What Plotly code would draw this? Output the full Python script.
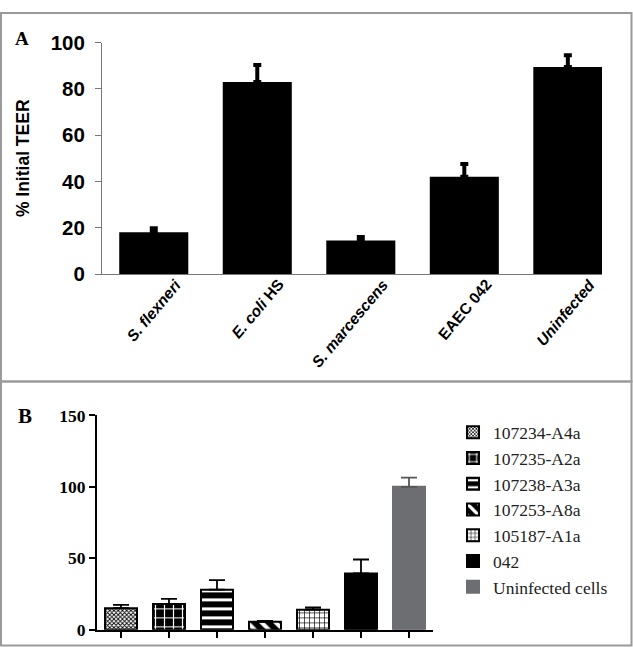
import plotly.graph_objects as go

# ---------------- data ----------------
a_categories = ["S. flexneri", "E. coli HS", "S. marcescens", "EAEC 042", "Uninfected"]
a_tick_text = ["<i>S. flexneri</i>", "<i>E. coli</i> HS", "<i>S. marcescens</i>", "EAEC 042", "<i>Uninfected</i>"]
a_values = [18.0, 83.0, 14.5, 42.0, 89.5]
a_errors = [1.8, 7.3, 1.5, 5.5, 5.0]
a_yticks = [0, 20, 40, 60, 80, 100]

b_names = ["107234-A4a", "107235-A2a", "107238-A3a", "107253-A8a", "105187-A1a", "042", "Uninfected cells"]
b_values = [15.0, 18.0, 28.0, 5.5, 14.0, 39.3, 100.0]
b_errors = [2.3, 3.5, 6.6, 0.6, 1.5, 9.8, 6.4]
b_yticks = [0, 50, 100, 150]

# styles (not data)
b_styles = [
    dict(shape="x", bg="white", fg="black", size=3, sol=0.5, color="white"),
    dict(shape="+", bg="black", fg="white", size=9, sol=0.25, color="black"),
    dict(shape="-", bg="black", fg="white", size=9, sol=0.33, color="black"),
    dict(shape="\\", bg="black", fg="white", size=10, sol=0.4, color="black"),
    dict(shape="+", bg="white", fg="black", size=5, sol=0.25, color="white"),
    dict(shape="", bg="black", fg="black", size=8, sol=0.3, color="black"),
    dict(shape="", bg="#6d6e71", fg="#6d6e71", size=8, sol=0.3, color="#6d6e71"),
]

W, H = 633, 658
def px_x(p):
    return p / W
def px_y(p):
    return (H - p) / H

fig = go.Figure()

# ---------------- Panel A ----------------
fig.add_trace(go.Bar(
    x=a_categories, y=a_values, width=0.667,
    marker=dict(color="black", line=dict(width=0)),
    error_y=dict(type="data", array=a_errors, arrayminus=[0] * len(a_errors),
                 color="black", thickness=4, width=4),
    showlegend=False, xaxis="x", yaxis="y",
))

# ---------------- Panel B ----------------
for name, v, e, st in zip(b_names, b_values, b_errors, b_styles):
    pat = dict(shape=st["shape"], bgcolor=st["bg"], fgcolor=st["fg"],
               size=st["size"], solidity=st["sol"], fillmode="replace")
    grey = st["color"] == "#6d6e71"
    fig.add_trace(go.Bar(
        x=[name], y=[v], width=0.667, name=name,
        marker=dict(color=st["color"], pattern=pat,
                    line=dict(color="#6d6e71" if grey else "black", width=2)),
        error_y=dict(type="data", array=[e], arrayminus=[0],
                     color="#555558" if grey else "black",
                     thickness=1.8, width=8),
        xaxis="x2", yaxis="y2",
    ))

# rotated category labels for panel A (placed through the x axis scale)
for cat, txt in zip(a_categories, a_tick_text):
    fig.add_annotation(
        x=cat, y=0, xref="x", yref="y", text=txt, showarrow=False,
        textangle=-50, xanchor="right", yanchor="top", xshift=33, yshift=1,
        font=dict(family="Liberation Sans, Arial", size=15.5, color="black", weight="bold"),
    )

# panel letters
fig.add_annotation(x=px_x(13), y=px_y(14), xref="paper", yref="paper", text="<b>A</b>",
                   showarrow=False, xanchor="left", yanchor="top",
                   font=dict(family="Liberation Serif, Times New Roman", size=19, color="black"))
fig.add_annotation(x=px_x(16), y=px_y(404), xref="paper", yref="paper", text="<b>B</b>",
                   showarrow=False, xanchor="left", yanchor="top",
                   font=dict(family="Liberation Serif, Times New Roman", size=21, color="black"))

# panel borders
for y0, y1 in [(1, 383), (383, 656.5)]:
    fig.add_shape(type="rect", xref="paper", yref="paper",
                  x0=px_x(1), x1=px_x(631.5), y0=px_y(y1), y1=px_y(y0),
                  line=dict(color="#9a9a9a", width=2), fillcolor="rgba(0,0,0,0)", layer="below")

fig.update_layout(
    width=W, height=H,
    margin=dict(l=0, r=0, t=0, b=0),
    paper_bgcolor="white", plot_bgcolor="white",
    barmode="overlay",
    showlegend=True,
    legend=dict(x=px_x(453), y=px_y(417), xanchor="left", yanchor="top",
                font=dict(family="Liberation Serif, Times New Roman", size=17.5, color="#222"),
                bgcolor="rgba(0,0,0,0)", tracegroupgap=0),
    xaxis=dict(domain=[px_x(102), px_x(602)], range=[-0.5, 4.33], type="category",
               showticklabels=False, ticks="", showline=True, linecolor="#777", linewidth=1,
               showgrid=False, zeroline=False, anchor="y", fixedrange=True),
    yaxis=dict(domain=[px_y(271.5), px_y(31.7)], range=[0, 100], tickvals=a_yticks,
               ticks="outside", ticklen=6, tickcolor="#777", tickwidth=1,
               showline=True, linecolor="#777", linewidth=1, showgrid=False, zeroline=False,
               tickfont=dict(family="Liberation Sans, Arial", size=20.5, color="black", weight="bold"),
               ticklabelstandoff=6,
               title=dict(text="% Initial TEER", standoff=16,
                          font=dict(family="Liberation Sans, Arial", size=17.5, color="black", weight="bold")),
               anchor="x"),
    xaxis2=dict(domain=[px_x(97), px_x(433)], range=[-0.5, 6.5], type="category",
                showticklabels=False, ticks="outside", ticklen=6, tickwidth=2, tickcolor="black",
                showline=True, linecolor="black", linewidth=2, showgrid=False, zeroline=False,
                anchor="y2"),
    yaxis2=dict(domain=[px_y(640), px_y(418)], range=[0, 150], tickvals=b_yticks,
                ticks="outside", ticklen=6, tickwidth=2, tickcolor="black",
                showline=True, linecolor="black", linewidth=2, showgrid=False, zeroline=False,
                tickfont=dict(family="Liberation Serif, Times New Roman", size=17.5, color="black", weight="bold"),
                anchor="x2"),
)

fig.write_html("out.html", config={"displayModeBar": False},
               post_script="document.body.style.margin='0';document.body.style.overflow='hidden';")
